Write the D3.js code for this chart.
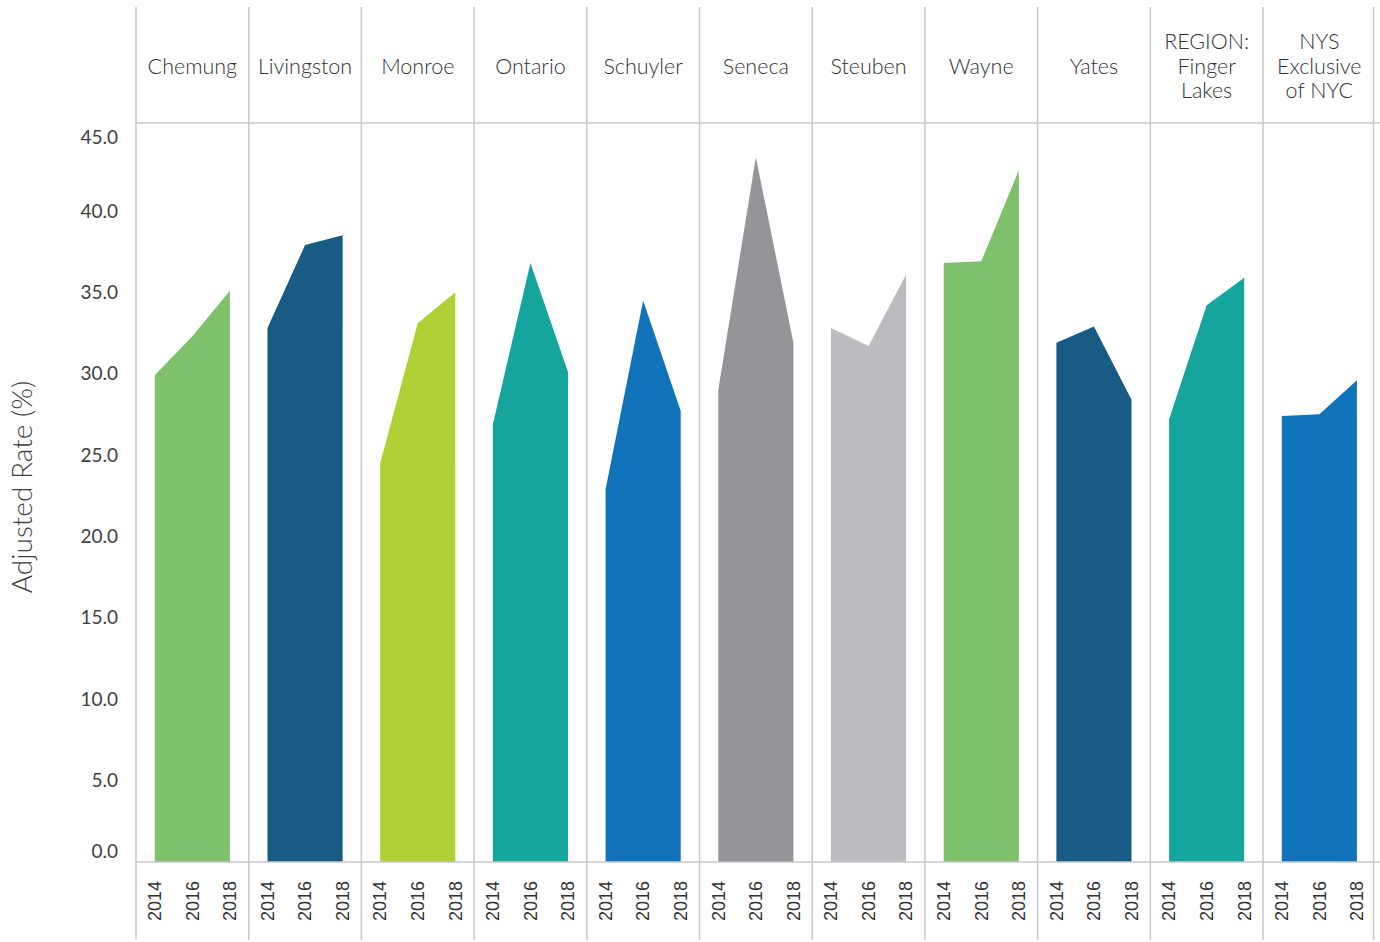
<!DOCTYPE html>
<html>
<head>
<meta charset="utf-8">
<script src="https://cdn.jsdelivr.net/npm/d3@7.9.0/dist/d3.min.js"></script>
<style>
  body { margin: 0; background: #fff; }
  svg { display: block; }
</style>
</head>
<body>
<svg id="chart"></svg>
<script>
// counties (header labels, "\n" marks a line break)
const counties = ["Chemung", "Livingston", "Monroe", "Ontario", "Schuyler", "Seneca",
  "Steuben", "Wayne", "Yates", "REGION:\nFinger\nLakes", "NYS\nExclusive\nof NYC"];
const years = ["2014", "2016", "2018"];
const rate2014 = [29.9, 32.8, 24.5, 26.9, 22.9, 29.0, 32.8, 36.8, 31.9, 27.2, 27.4];
const rate2016 = [32.3, 37.9, 33.1, 36.8, 34.5, 43.3, 31.7, 36.9, 32.9, 34.2, 27.5];
const rate2018 = [35.1, 38.5, 35.0, 30.1, 27.7, 31.9, 36.1, 42.5, 28.4, 35.9, 29.6];
const yTicks = [0, 5, 10, 15, 20, 25, 30, 35, 40, 45];

const palette = ["#7fc06b", "#185b85", "#afd136", "#16a59c", "#1174bb", "#939598",
  "#bbbcc0", "#7fc06b", "#185b85", "#16a59c", "#1174bb"];

const W = 1380, H = 942;
const left = 136, right = 136 + 11 * 112.7;
const frameRight = 1373.5; // the chart is cut off just before the last panel ends
const headTop = 7, headBottom = 123, base = 862, bottom = 940;
const gridColor = "#c9c9cb";

const svg = d3.select("#chart").attr("width", W).attr("height", H);

const data = counties.map((c, i) => ({
  county: c,
  values: [rate2014[i], rate2016[i], rate2018[i]].map((v, j) => ({ year: years[j], value: v }))
}));

const xPanel = d3.scaleBand().domain(counties).range([left, right]).padding(0);
const xYear = d3.scalePoint().domain(years).range([0, xPanel.bandwidth()]).padding(0.5);
const y = d3.scaleLinear().domain([0, 45.4]).range([base, headBottom]);

const area = d3.area()
  .x(d => xYear(d.year))
  .y0(y(0))
  .y1(d => y(d.value));

// areas
const panels = svg.append("g").selectAll("g")
  .data(data)
  .join("g")
  .attr("transform", d => `translate(${xPanel(d.county)},0)`);

panels.append("path")
  .attr("d", d => area(d.values))
  .attr("fill", (d, i) => palette[i]);

// grid frame
const grid = svg.append("g").attr("stroke", gridColor).attr("stroke-width", 1.5);
const edges = counties.map(c => xPanel(c)).concat([frameRight]);
grid.selectAll("line.v")
  .data(edges)
  .join("line")
  .attr("x1", d => d).attr("x2", d => d)
  .attr("y1", headTop).attr("y2", bottom);
grid.append("line")
  .attr("x1", left).attr("x2", W)
  .attr("y1", headBottom).attr("y2", headBottom);
grid.append("line")
  .attr("x1", left).attr("x2", W)
  .attr("y1", base).attr("y2", base);

// header labels
const headers = svg.append("g")
  .attr("font-family", "Lato, 'Noto Sans', sans-serif")
  .attr("font-weight", 300)
  .attr("font-size", 21.5)
  .attr("fill", "#333")
  .attr("text-anchor", "middle");

headers.selectAll("text")
  .data(counties)
  .join("text")
  .each(function (c) {
    const lines = c.split("\n");
    const lh = 24.5;
    const cy = 66 - (lines.length - 1) * lh / 2;
    d3.select(this).selectAll("tspan")
      .data(lines)
      .join("tspan")
      .attr("x", xPanel(c) + xPanel.bandwidth() / 2)
      .attr("y", (l, k) => cy + k * lh)
      .attr("dy", "0.35em")
      .text(l => l);
  });

// year labels
const yearG = svg.append("g")
  .attr("font-family", "'Liberation Sans', Arial, sans-serif")
  .attr("font-size", 18)
  .attr("fill", "#333");

panels.each(function (d) {
  const x0 = xPanel(d.county);
  yearG.selectAll(null)
    .data(years)
    .join("text")
    .attr("transform", yr => `translate(${x0 + xYear(yr)},881) rotate(-90)`)
    .attr("text-anchor", "end")
    .attr("dy", "0.35em")
    .text(yr => yr);
});

// y tick labels (end labels kept inside the plot band)
svg.append("g")
  .attr("font-family", "Lato, 'Noto Sans', sans-serif")
  .attr("font-size", 19)
  .attr("fill", "#404040")
  .attr("text-anchor", "end")
  .selectAll("text")
  .data(yTicks)
  .join("text")
  .attr("x", 118)
  .attr("y", d => Math.min(Math.max(y(d), 137), 851))
  .attr("dy", "0.35em")
  .text(d => d3.format(".1f")(d));

// y axis title
svg.append("text")
  .attr("transform", "translate(22,487) rotate(-90)")
  .attr("text-anchor", "middle")
  .attr("dy", "0.35em")
  .attr("font-family", "Lato, 'Noto Sans', sans-serif")
  .attr("font-weight", 300)
  .attr("font-size", 28)
  .attr("fill", "#404040")
  .text("Adjusted Rate (%)");
</script>
</body>
</html>
